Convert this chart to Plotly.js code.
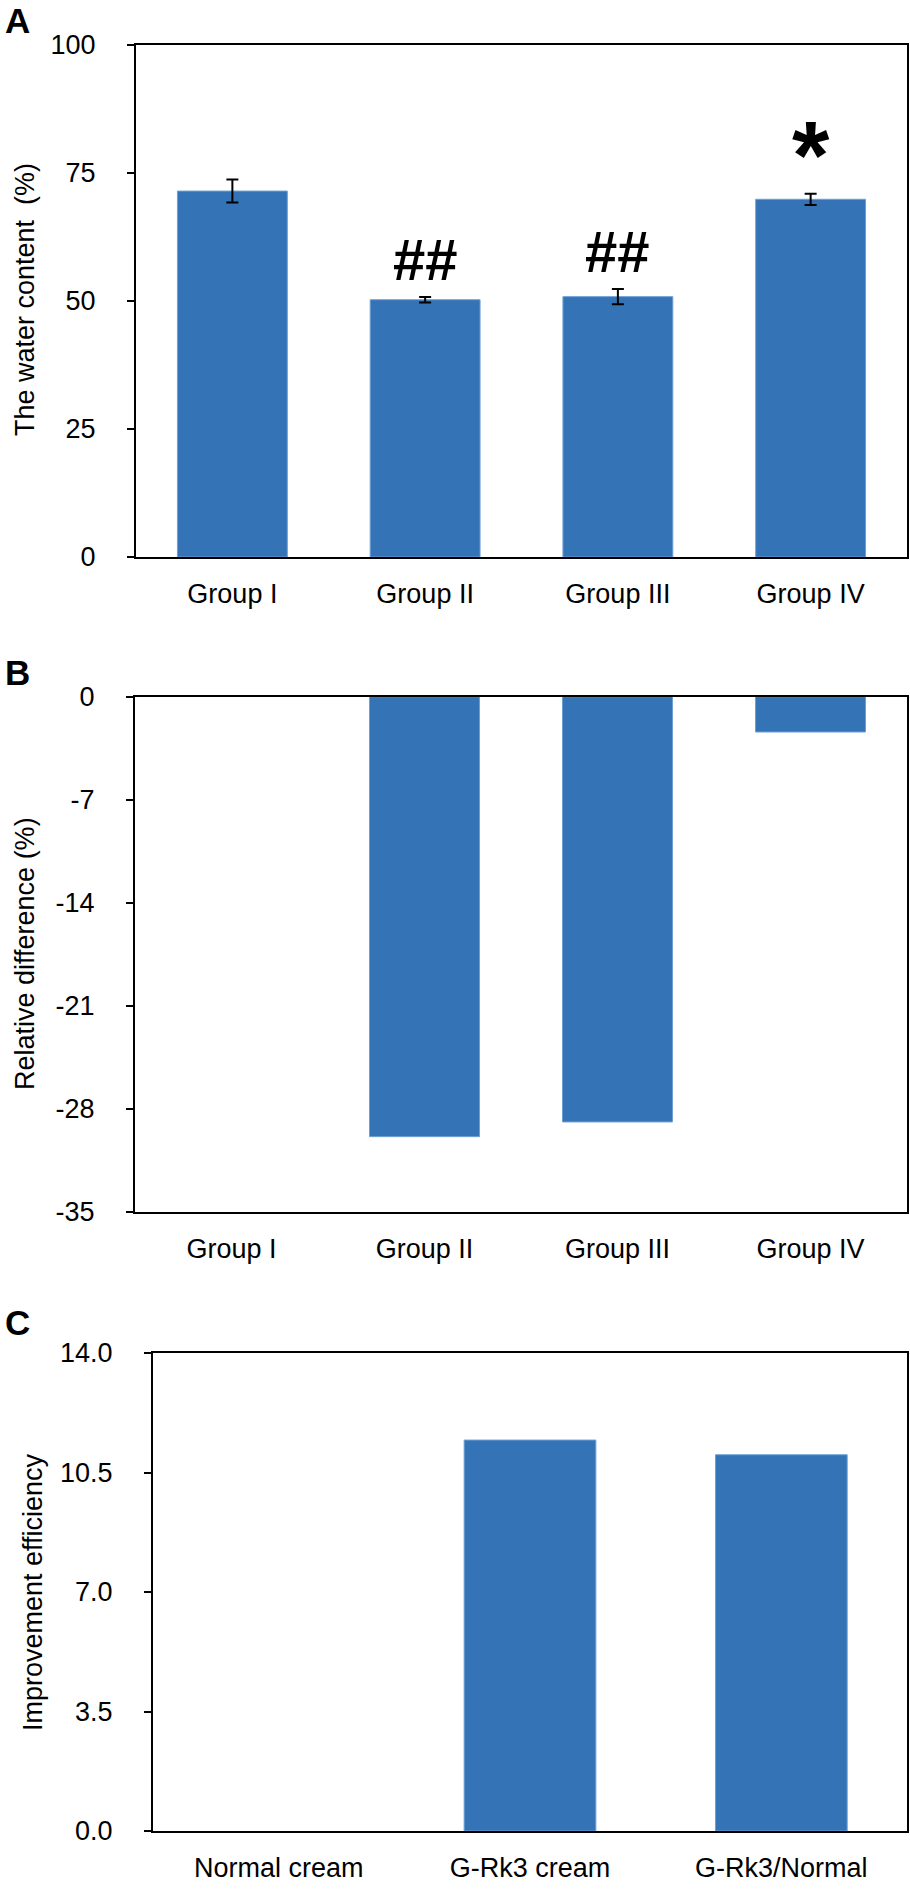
<!DOCTYPE html>
<html>
<head>
<meta charset="utf-8">
<script src="https://cdn.plot.ly/plotly-3.0.1.min.js"></script>
<style>html,body{margin:0;padding:0;background:#fff;}</style>
</head>
<body>
<div id="chart" style="width:910px;height:1896px;"></div>
<script>
// ---- data ----
const groups = ["Group I", "Group II", "Group III", "Group IV"];
const waterContent = [71.4, 50.2, 50.8, 69.8];
const waterErr = [2.25, 0.55, 1.5, 1.1];
const sigMarks = ["", "##", "##", "*"];
const relDiff = [0, -29.9, -28.9, -2.4];
const creams = ["Normal cream", "G-Rk3 cream", "G-Rk3/Normal"];
const efficiency = [0, 11.45, 11.02];
const ticksA = [0, 25, 50, 75, 100];
const ticksB = [-35, -28, -21, -14, -7, 0];
const tickTextB = ["-35", "-28", "-21", "-14", "-7", "0"];
const ticksC = [0, 3.5, 7, 10.5, 14];
const tickTextC = ["0.0", "3.5", "7.0", "10.5", "14.0"];

// ---- style ----
const W = 910, H = 1896;
const FONT = "Liberation Sans, Arial, Helvetica, sans-serif";
const BAR = "#3473B5";
const BAR_EDGE = "#6C9FD6";
const px = v => v / W;
const py = v => 1 - v / H;

const barTrace = (x, y, xa, ya, width, extra) => Object.assign({
  type: "bar", x: x, y: y, xaxis: xa, yaxis: ya, width: width,
  marker: {color: BAR, line: {color: BAR_EDGE, width: y.map(v => v === 0 ? 0 : 1)}},
  hoverinfo: "none", showlegend: false
}, extra || {});

const traces = [
  barTrace(groups, waterContent, "x", "y", 0.57, {
    error_y: {type: "data", array: waterErr, visible: true, color: "#000", thickness: 2, width: 6}
  }),
  barTrace(groups, relDiff, "x2", "y2", 0.57),
  barTrace(creams, efficiency, "x3", "y3", 0.524)
];

const xBase = {
  type: "category", showline: true, mirror: true, linecolor: "#000", linewidth: 2,
  ticks: "", showgrid: false, zeroline: false, fixedrange: true,
  tickfont: {family: FONT, size: 27, color: "#000"}, ticklabelstandoff: 12, automargin: false
};
const yBase = {
  showline: true, mirror: true, linecolor: "#000", linewidth: 2,
  ticks: "outside", ticklen: 7, tickwidth: 2, tickcolor: "#000",
  showgrid: false, zeroline: false, fixedrange: true,
  tickfont: {family: FONT, size: 27, color: "#000"}, ticklabelstandoff: 26, automargin: false
};

const annotations = [];
// significance marks
groups.forEach((g, i) => {
  const m = sigMarks[i];
  if (!m) return;
  const star = m === "*";
  annotations.push({
    xref: "x", yref: "y", x: g, y: waterContent[i] + waterErr[i],
    text: "<b>" + m + "</b>", showarrow: false, xanchor: "center", yanchor: "bottom",
    yshift: star ? -16 : 3,
    font: {family: FONT, size: star ? 96 : 58, color: "#000"}
  });
});
// y-axis titles
const yTitles = [
  {text: "The water content  (%)", x: 25, y: 300},
  {text: "Relative difference (%)", x: 25, y: 954},
  {text: "Improvement efficiency", x: 33, y: 1592}
];
yTitles.forEach(t => annotations.push({
  xref: "paper", yref: "paper", x: px(t.x), y: py(t.y), text: t.text, textangle: -90,
  showarrow: false, xanchor: "center", yanchor: "middle",
  font: {family: FONT, size: 27, color: "#000"}
}));
// panel letters
[["A", 17, 21], ["B", 17, 672], ["C", 17, 1322]].forEach(p => annotations.push({
  xref: "paper", yref: "paper", x: px(p[1]), y: py(p[2]), text: "<b>" + p[0] + "</b>",
  showarrow: false, xanchor: "center", yanchor: "middle",
  font: {family: FONT, size: 35, color: "#000"}
}));

const layout = {
  width: W, height: H,
  margin: {l: 0, r: 0, t: 0, b: 0},
  paper_bgcolor: "#fff", plot_bgcolor: "#fff",
  showlegend: false, bargap: 0,
  xaxis: Object.assign({}, xBase, {domain: [px(136), px(907)], anchor: "y"}),
  yaxis: Object.assign({}, yBase, {domain: [py(557), py(44.5)], anchor: "x", range: [0, 100], tickvals: ticksA}),
  xaxis2: Object.assign({}, xBase, {domain: [px(135), px(907)], anchor: "y2"}),
  yaxis2: Object.assign({}, yBase, {domain: [py(1211.7), py(696.7)], anchor: "x2", range: [-35, 0], tickvals: ticksB, ticktext: tickTextB}),
  xaxis3: Object.assign({}, xBase, {domain: [px(153), px(907)], anchor: "y3"}),
  yaxis3: Object.assign({}, yBase, {domain: [py(1831), py(1353)], anchor: "x3", range: [0, 14], tickvals: ticksC, ticktext: tickTextC}),
  annotations: annotations
};

Plotly.newPlot("chart", traces, layout, {staticPlot: true, displayModeBar: false});
</script>
</body>
</html>
